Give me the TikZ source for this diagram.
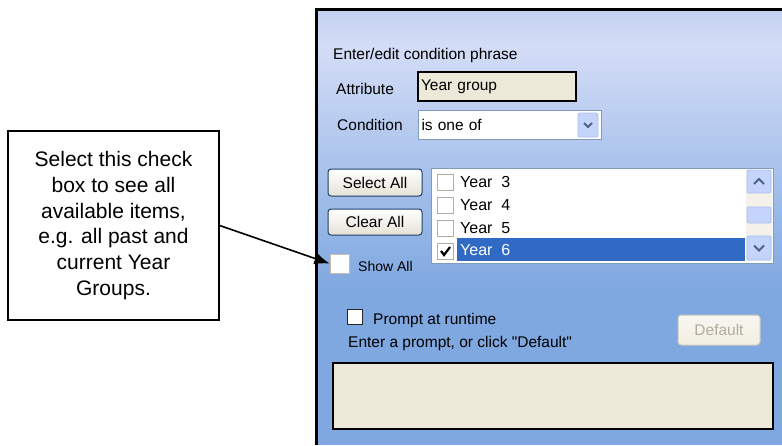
\documentclass[tikz,border=0pt]{standalone}
\usepackage{fontspec}
\setmainfont{Liberation Sans}
\usetikzlibrary{arrows.meta}

\definecolor{paneltop}{HTML}{C3D1F1}
\definecolor{panelhi}{HTML}{D4DDF7}
\definecolor{panello}{HTML}{7FA8E0}
\definecolor{tan}{HTML}{ECE9D8}
\definecolor{comboedge}{HTML}{7F9DB9}
\definecolor{scrollbtn}{HTML}{C4D4FB}
\definecolor{scrolledge}{HTML}{A9C0F2}
\definecolor{chev}{HTML}{4D6185}
\definecolor{selrow}{HTML}{316AC5}
\definecolor{btnedge}{HTML}{1F3F66}
\definecolor{btnface}{HTML}{E4E2D6}
\definecolor{track}{HTML}{F3F1EA}
\definecolor{tickedge}{HTML}{B3AC9C}

\begin{document}
\begin{tikzpicture}[x=1pt, y=-1pt, >=Latex,
    ui/.style={font=\fontsize{15.5}{18}\selectfont, inner sep=0pt, anchor=west},
    field/.style={draw, line width=1.3pt, fill=tan, inner sep=0pt},
    combo/.style={draw=comboedge, line width=1pt, fill=white, inner sep=0pt},
    xpbutton/.style={draw=btnedge, line width=1pt, rounded corners=3pt, top color=white,
        bottom color=btnface, inner sep=0pt, font=\fontsize{15.5}{18}\selectfont},
    scrollbox/.style={draw=scrolledge, line width=0.8pt, rounded corners=2pt, fill=scrollbtn,
        minimum width=24pt, inner sep=0pt},
    chevron/.style={draw=chev, line width=1.8pt},
    tick/.style={draw=tickedge, line width=1pt, fill=white, minimum size=16pt, inner sep=0pt}]
    \useasboundingbox (0,0) rectangle (782,445);
    % dialog panel
    \fill[top color=paneltop, bottom color=panelhi] (316,9) rectangle (782,45);
    \fill[top color=panelhi, bottom color=panello] (316,45) rectangle (782,290);
    \fill[panello] (316,290) rectangle (782,445);
    \draw[line width=3pt] (316,445) -- (316,9) -- (782,9);

    \node[ui] (heading) at (333,55) {Enter/edit condition phrase};
    \node[ui] (attrlbl) at (336,89) {Attribute};
    \node[field, minimum width=158pt, minimum height=29pt, text width=152pt,
        font=\fontsize{15.5}{18}\selectfont] (attrbox) at (497,86.5) {Year group};
    \node[ui] (condlbl) at (337,125) {Condition};
    \node[combo, minimum width=183pt, minimum height=29pt, text width=176pt,
        font=\fontsize{15.5}{18}\selectfont] (condbox) at (509.5,124.5) {is one of};
    \node[scrollbox, minimum width=20pt, minimum height=24pt] (conddrop) at (588,125) {};
    \draw[chevron] (conddrop.center) ++(-4,-2) -- ++(4,4) -- ++(4,-4);

    \node[xpbutton, minimum width=94pt, minimum height=27pt] (selall) at (375,182.5) {Select All};
    \node[xpbutton, minimum width=94pt, minimum height=26pt] (clrall) at (375,222) {Clear All};

    \node[combo, minimum width=342pt, minimum height=95pt] (yearlist) at (602,215.5) {};
    \fill[track] (746,170) rectangle (772,261);
    \node[scrollbox, minimum height=23pt] (scrollup) at (759,181.5) {};
    \node[scrollbox, minimum height=16pt] (scrollthumb) at (759,215) {};
    \node[scrollbox, minimum height=24pt] (scrolldown) at (759,248) {};
    \draw[chevron] (scrollup.center) ++(-5,2.5) -- ++(5,-5) -- ++(5,5);
    \draw[chevron] (scrolldown.center) ++(-5,-2.5) -- ++(5,5) -- ++(5,-5);

    \foreach \n/\y in {3/182, 4/205, 5/228} {
        \node[tick] (yr\n) at (445,\y) {};
        \node[ui, font=\fontsize{16}{18}\selectfont] (yrtxt\n) at (460,\y) {Year\ \ \n};
    }
    \fill[selrow] (457,238) rectangle (745,261);
    \node[tick] (yr6) at (445,251) {};
    \draw[line width=2.2pt] (yr6.center) ++(-4,0) -- ++(3,4) -- ++(6,-8);
    \node[ui, font=\fontsize{16}{18}\selectfont, text=white] (yrtxt6) at (460,250) {Year\ \ 6};

    \node[tick, draw=tickedge!80, minimum size=19pt] (showbox) at (339.5,263.5) {};
    \node[ui, font=\fontsize{14}{16}\selectfont] (showlbl) at (358,266) {Show All};

    \node[draw=black!85, line width=1pt, fill=white, minimum size=15pt, inner sep=0pt] (promptbox) at (354.5,317) {};
    \node[ui] (promptlbl) at (373,320) {Prompt at runtime};
    \node[ui] (hintlbl) at (348,343) {Enter a prompt, or click \textquotedbl Default\textquotedbl};
    \node[xpbutton, draw=tickedge!70, top color=tan!40, bottom color=tan!70, text=tickedge,
        minimum width=82pt, minimum height=30pt] (defbtn) at (719,330) {Default};
    \node[field, minimum width=440pt, minimum height=66pt] (promptfield) at (553,396) {};

    % callout
    \node[draw, line width=1.4pt, fill=white, minimum width=211pt, minimum height=189pt,
        align=center, font=\fontsize{21}{25.7}\selectfont] (callout) at (113.5,225.5)
        {Select this check\\ box to see all\\ available items,\\ e.g. all past and\\ current Year\\ Groups.};
    \draw[-{Latex[length=15pt,width=12pt]}, line width=1.6pt] (callout.east) -- (showbox.west);
\end{tikzpicture}
\end{document}
